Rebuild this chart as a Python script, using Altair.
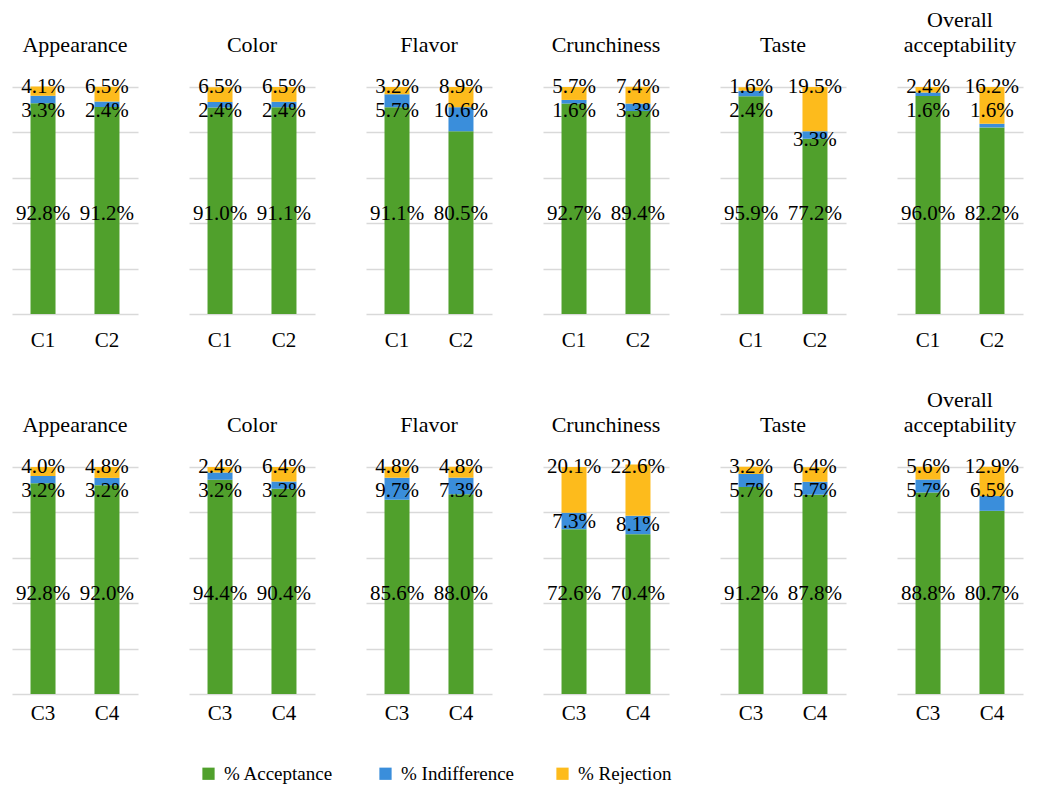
import altair as alt
import pandas as pd

attributes = ["Appearance", "Color", "Flavor", "Crunchiness", "Taste", "Overall acceptability"]
title_lines = [[" ", "Appearance"], [" ", "Color"], [" ", "Flavor"], [" ", "Crunchiness"],
               [" ", "Taste"], ["Overall", "acceptability"]]
top_samples = ["C1", "C2"]
bottom_samples = ["C3", "C4"]
series = ["% Acceptance", "% Indifference", "% Rejection"]
colors = ["#50A02C", "#3A8EDB", "#FDBB1C"]

top_acceptance = [[92.8, 91.2], [91.0, 91.1], [91.1, 80.5], [92.7, 89.4], [95.9, 77.2], [96.0, 82.2]]
top_indifference = [[3.3, 2.4], [2.4, 2.4], [5.7, 10.6], [1.6, 3.3], [2.4, 3.3], [1.6, 1.6]]
top_rejection = [[4.1, 6.5], [6.5, 6.5], [3.2, 8.9], [5.7, 7.4], [1.6, 19.5], [2.4, 16.2]]

bottom_acceptance = [[92.8, 92.0], [94.4, 90.4], [85.6, 88.0], [72.6, 70.4], [91.2, 87.8], [88.8, 80.7]]
bottom_indifference = [[3.2, 3.2], [3.2, 3.2], [9.7, 7.3], [7.3, 8.1], [5.7, 5.7], [5.7, 6.5]]
bottom_rejection = [[4.0, 4.8], [2.4, 6.4], [4.8, 4.8], [20.1, 22.6], [3.2, 6.4], [5.6, 12.9]]

SERIF = "Liberation Serif"
PANEL_W = 126
PANEL_H = 227


def panel(samples, acc, ind, rej, title, label_pad):
    rows = []
    for s, a, i, r in zip(samples, acc, ind, rej):
        top_of_ind = a + i
        rows.append(dict(sample=s, series=series[0], value=a, order=0,
                         label=f"{a:.1f}%", label_y=44))
        rows.append(dict(sample=s, series=series[1], value=i, order=1,
                         label=f"{i:.1f}%",
                         label_y=89.5 if top_of_ind > 82 else top_of_ind - 4))
        rows.append(dict(sample=s, series=series[2], value=r, order=2,
                         label=f"{r:.1f}%", label_y=100))
    df = pd.DataFrame(rows)
    xenc = alt.X("sample:N", sort=samples, title=None,
                 scale=alt.Scale(paddingInner=0.61, paddingOuter=0.29),
                 axis=alt.Axis(labelAngle=0, ticks=False, domain=False, labelPadding=label_pad,
                               labelFont=SERIF, labelFontSize=21, labelColor="black",
                               labelBaseline="top"))
    yscale = alt.Scale(domain=[0, 100], nice=False)
    bars = alt.Chart(df).mark_bar(size=25).encode(
        x=xenc,
        y=alt.Y("value:Q", stack="zero", scale=yscale, title=None,
                axis=alt.Axis(values=[0, 20, 40, 60, 80, 100], labels=False, ticks=False,
                              domain=False, grid=True, gridColor="#D9D9D9", gridWidth=1.5)),
        color=alt.Color("series:N", scale=alt.Scale(domain=series, range=colors),
                        legend=alt.Legend(title=None, orient="none", direction="horizontal",
                                          legendX=187, legendY=677, columns=3,
                                          symbolType="square", symbolSize=150,
                                          symbolStrokeWidth=0, labelFont=SERIF,
                                          labelFontSize=19, labelColor="black",
                                          labelOffset=6, columnPadding=38,
                                          gridAlign="all")),
        order=alt.Order("order:Q"),
    )
    texts = alt.Chart(df).mark_text(font=SERIF, fontSize=21, baseline="middle",
                                    color="black").encode(
        x=alt.X("sample:N", sort=samples),
        y=alt.Y("label_y:Q", scale=yscale),
        text="label:N",
    )
    return alt.layer(bars, texts).properties(
        width=PANEL_W, height=PANEL_H,
        title=alt.TitleParams(text=title, font=SERIF, fontSize=22, fontWeight="normal",
                              color="black", lineHeight=25, offset=19, anchor="middle"),
    )


top_row = alt.hconcat(*[
    panel(top_samples, top_acceptance[k], top_indifference[k], top_rejection[k], title_lines[k], 15)
    for k in range(len(attributes))
], spacing=51)
bottom_row = alt.hconcat(*[
    panel(bottom_samples, bottom_acceptance[k], bottom_indifference[k], bottom_rejection[k],
          title_lines[k], 8)
    for k in range(len(attributes))
], spacing=51)

chart = alt.vconcat(top_row, bottom_row, spacing=39).properties(
    padding={"left": 12, "top": 9, "right": 10, "bottom": 5},
    background="white",
).configure_view(strokeWidth=0)

chart.save("out.html", embed_options={"renderer": "svg", "actions": False})
